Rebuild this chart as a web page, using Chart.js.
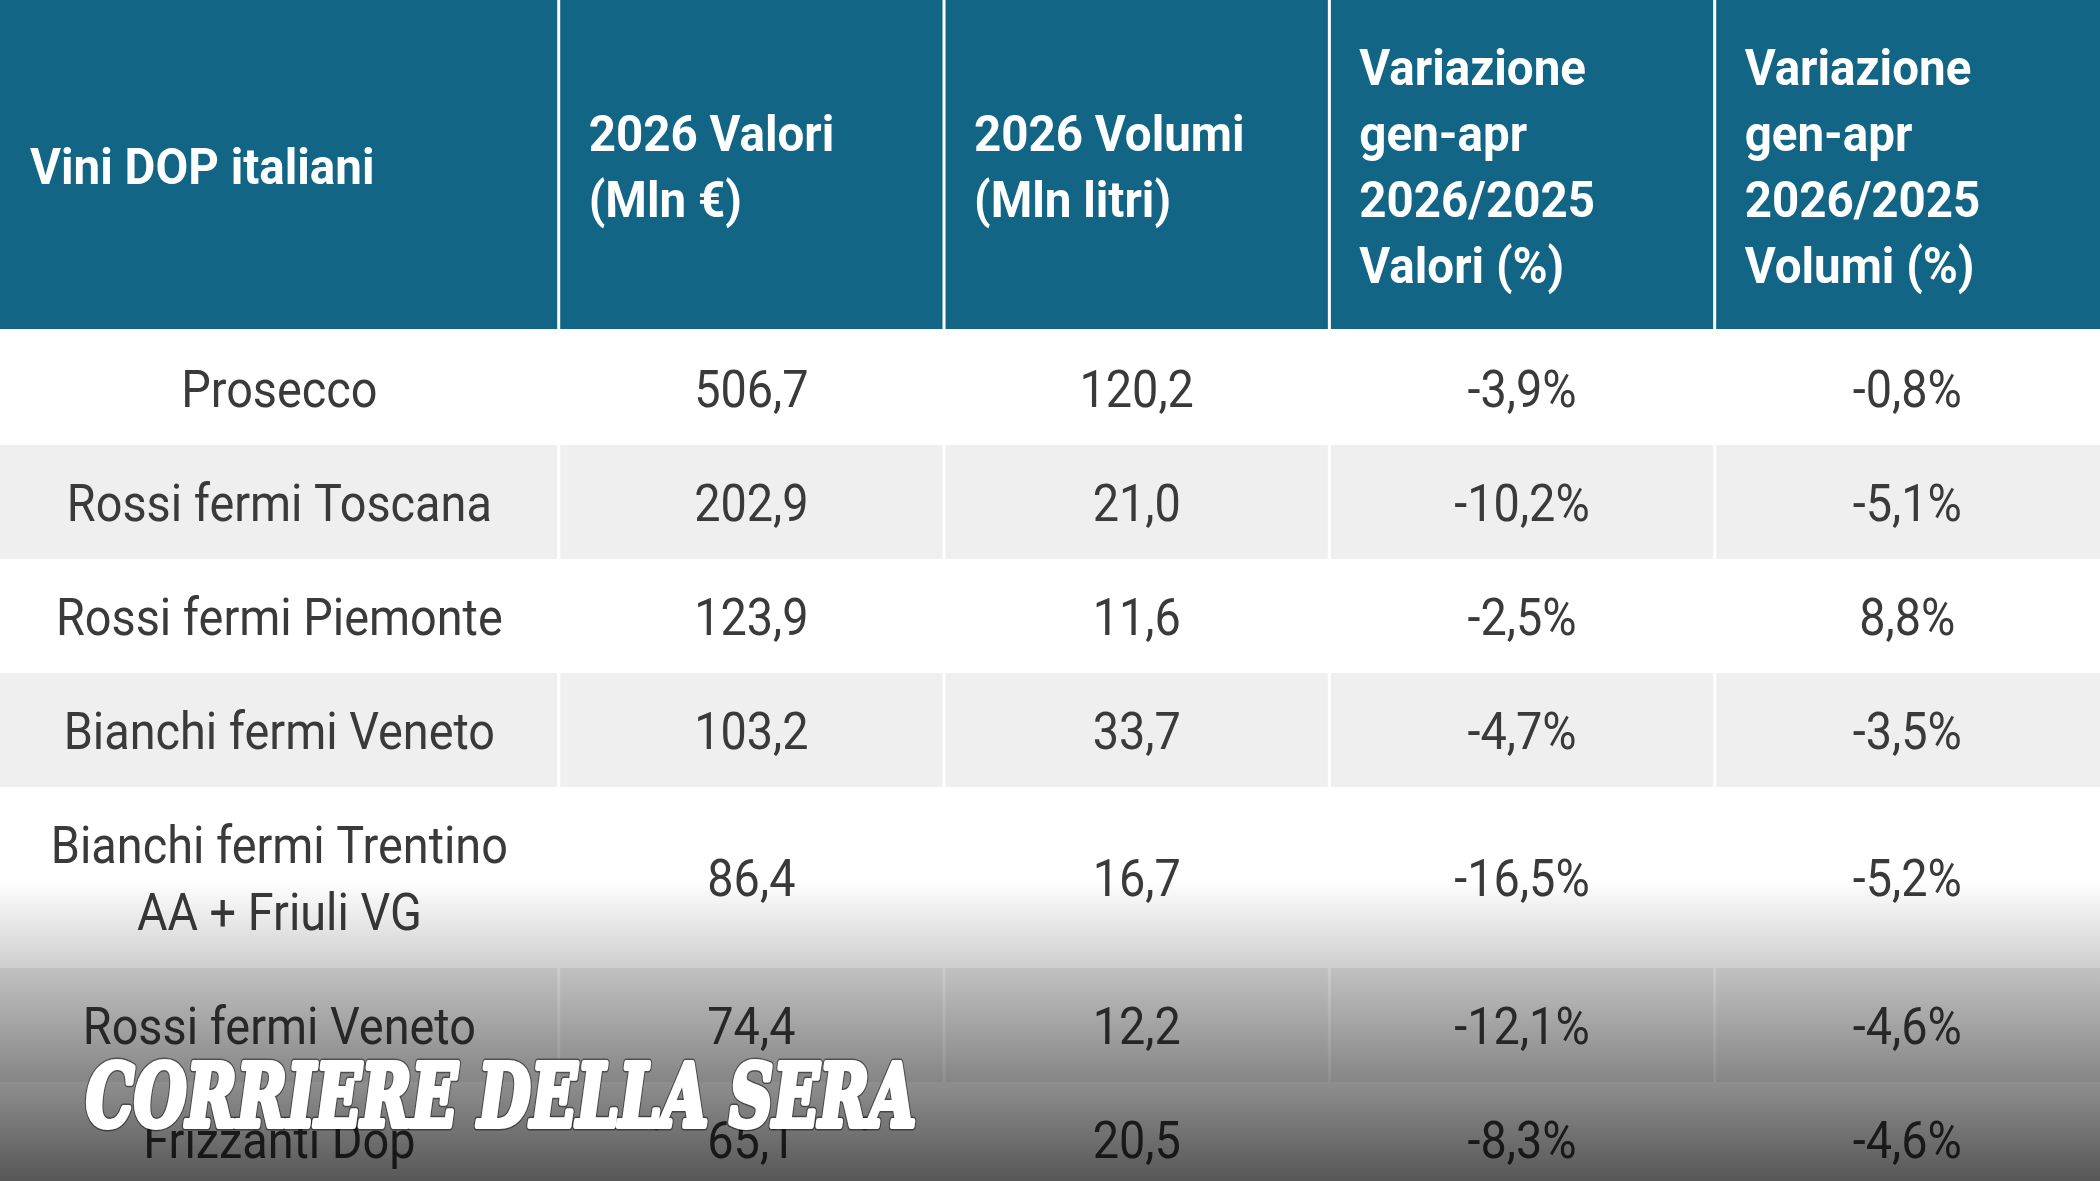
<!DOCTYPE html>
<html>
<head>
<meta charset="utf-8">
<script src="https://cdn.jsdelivr.net/npm/chart.js@4.4.1/dist/chart.umd.min.js"></script>
<style>
  html, body { margin: 0; padding: 0; background: #ffffff; }
  #wrap { width: 2100px; height: 1181px; overflow: hidden; }
</style>
</head>
<body>
<div id="wrap"><canvas id="wineTable" width="2100" height="1181"></canvas></div>
<script>
const columnHeaders = [
  ["Vini DOP italiani"],
  ["2026 Valori", "(Mln €)"],
  ["2026 Volumi", "(Mln litri)"],
  ["Variazione", "gen-apr", "2026/2025", "Valori (%)"],
  ["Variazione", "gen-apr", "2026/2025", "Volumi (%)"],
];
const wines = [
  "Prosecco",
  "Rossi fermi Toscana",
  "Rossi fermi Piemonte",
  "Bianchi fermi Veneto",
  "Bianchi fermi Trentino\nAA + Friuli VG",
  "Rossi fermi Veneto",
  "Frizzanti Dop",
];
const valori2026 = [506.7, 202.9, 123.9, 103.2, 86.4, 74.4, 65.1];
const volumi2026 = [120.2, 21.0, 11.6, 33.7, 16.7, 12.2, 20.5];
const varValori = [-3.9, -10.2, -2.5, -4.7, -16.5, -12.1, -8.3];
const varVolumi = [-0.8, -5.1, 8.8, -3.5, -5.2, -4.6, -4.6];
const brand = "CORRIERE DELLA SERA";

// layout (pixel units of the scales)
const W = 2100, H = 1181;
const headerH = 331, rowH = 114, lineH = 67;
const colWeights = [1.45, 1, 1, 1, 1];

const unit = W / colWeights.reduce((a, b) => a + b, 0);
const colEdges = [0];
colWeights.forEach((w) => colEdges.push(colEdges[colEdges.length - 1] + w * unit));
const rowEdges = [headerH];
wines.forEach((name) => {
  const lines = name.split("\n").length;
  rowEdges.push(rowEdges[rowEdges.length - 1] + rowH + (lines - 1) * lineH);
});
const colCenter = (c) => (colEdges[c] + colEdges[c + 1]) / 2;
const rowCenter = (r) => (rowEdges[r] + rowEdges[r + 1]) / 2;

const fmt = (v) => (v < 0 ? "-" : "") + Math.abs(v).toFixed(1).replace(".", ",");
const fmtPct = (v) => fmt(v) + "%";

const columns = [
  wines,
  valori2026.map(fmt),
  volumi2026.map(fmt),
  varValori.map(fmtPct),
  varVolumi.map(fmtPct),
];

function drawScaledText(ctx, text, x, y, sx, align) {
  ctx.save();
  ctx.translate(x, y);
  ctx.scale(sx, 1);
  ctx.textAlign = align;
  ctx.fillText(text, 0, 0);
  ctx.restore();
}

const tablePlugin = {
  id: "tablePlugin",
  beforeDatasetsDraw(chart) {
    const { ctx, scales: { x, y } } = chart;
    ctx.save();
    ctx.fillStyle = "#ffffff";
    ctx.fillRect(0, 0, W, H);
    // striped body rows
    wines.forEach((_, r) => {
      const top = y.getPixelForValue(rowEdges[r]);
      const bottom = y.getPixelForValue(rowEdges[r + 1]);
      ctx.fillStyle = r % 2 ? "#efefef" : "#ffffff";
      ctx.fillRect(0, top, W, bottom - top);
    });
    // header band
    ctx.fillStyle = "#136585";
    ctx.fillRect(0, y.getPixelForValue(0), W, y.getPixelForValue(headerH) - 2);
    // column separators
    ctx.fillStyle = "#ffffff";
    colEdges.slice(1, -1).forEach((edge) => {
      ctx.fillRect(x.getPixelForValue(edge) - 1.5, 0, 3, H);
    });
    // header titles
    ctx.fillStyle = "#ffffff";
    ctx.font = "bold 50px Roboto";
    columnHeaders.forEach((lines, c) => {
      const left = x.getPixelForValue(colEdges[c]) + 30;
      const mid = y.getPixelForValue(166);
      lines.forEach((line, i) => {
        const cy = mid + (i - (lines.length - 1) / 2) * 66;
        drawScaledText(ctx, line, left, cy + 18, 0.95, "left");
      });
    });
    ctx.restore();
  },
  afterDatasetsDraw(chart) {
    const { ctx } = chart;
    ctx.save();
    ctx.fillStyle = "#3a3a3a";
    ctx.font = "400 52px Roboto";
    chart.data.datasets.forEach((ds, i) => {
      chart.getDatasetMeta(i).data.forEach((pt, j) => {
        const lines = ds.data[j].label.split("\n");
        lines.forEach((line, k) => {
          const cy = pt.y + (k - (lines.length - 1) / 2) * lineH;
          drawScaledText(ctx, line, pt.x, cy + 18.5, 0.9, "center");
        });
      });
    });
    // bottom dark fade
    const grad = ctx.createLinearGradient(0, 880, 0, H);
    grad.addColorStop(0, "rgba(0,0,0,0)");
    grad.addColorStop(1, "rgba(0,0,0,0.66)");
    ctx.fillStyle = grad;
    ctx.fillRect(0, 880, W, H - 880);
    // masthead
    ctx.font = "italic bold 86px 'DejaVu Serif'";
    ctx.lineJoin = "round";
    const sx = 830 / ctx.measureText(brand).width;
    ctx.save();
    ctx.translate(86, 1126);
    ctx.scale(sx, 1);
    ctx.textAlign = "left";
    ctx.strokeStyle = "rgba(0,0,0,0.45)";
    ctx.lineWidth = 9;
    ctx.strokeText(brand, 0, 0);
    ctx.strokeStyle = "#ffffff";
    ctx.lineWidth = 6;
    ctx.strokeText(brand, 0, 0);
    ctx.fillStyle = "#ffffff";
    ctx.fillText(brand, 0, 0);
    ctx.restore();
    ctx.restore();
  },
};

new Chart(document.getElementById("wineTable"), {
  type: "scatter",
  data: {
    datasets: columns.map((values, c) => ({
      label: columnHeaders[c].join(" "),
      data: values.map((label, r) => ({ x: colCenter(c), y: rowCenter(r), label })),
      pointRadius: 0,
      pointHoverRadius: 0,
    })),
  },
  options: {
    responsive: false,
    devicePixelRatio: 1,
    animation: false,
    events: [],
    layout: { padding: 0 },
    plugins: { legend: { display: false }, tooltip: { enabled: false } },
    scales: {
      x: { type: "linear", min: 0, max: W, display: false },
      y: { type: "linear", min: 0, max: H, reverse: true, display: false },
    },
  },
  plugins: [tablePlugin],
});
</script>
</body>
</html>
